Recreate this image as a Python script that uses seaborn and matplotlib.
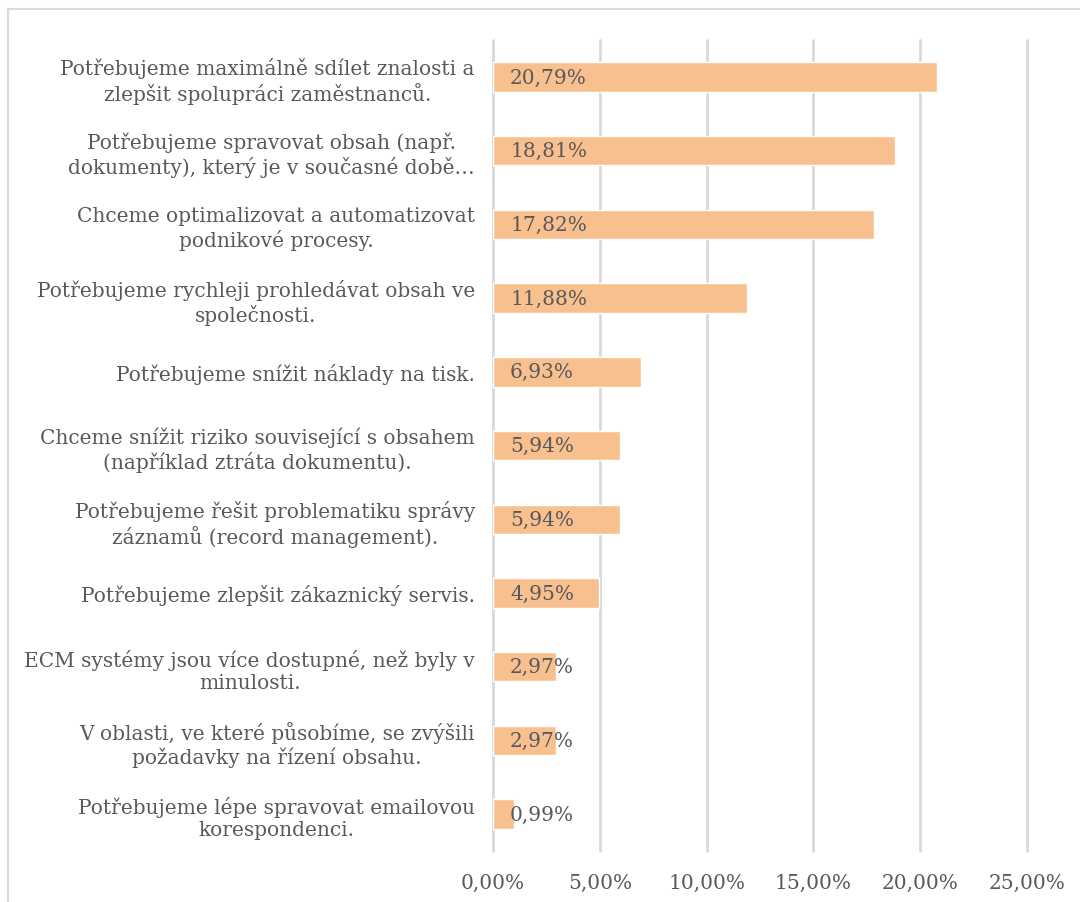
import matplotlib
matplotlib.use("Agg")
import matplotlib.pyplot as plt
import matplotlib.patches as mpatches
from matplotlib.ticker import FuncFormatter
import seaborn as sns
import pandas as pd

reasons = [
    "Potřebujeme maximálně sdílet znalosti a\nzlepšit spolupráci zaměstnanců.",
    "Potřebujeme spravovat obsah (např.\ndokumenty), který je v současné době…",
    "Chceme optimalizovat a automatizovat\npodnikové procesy.",
    "Potřebujeme rychleji prohledávat obsah ve\nspolečnosti.",
    "Potřebujeme snížit náklady na tisk.",
    "Chceme snížit riziko související s obsahem\n(například ztráta dokumentu).",
    "Potřebujeme řešit problematiku správy\nzáznamů (record management).",
    "Potřebujeme zlepšit zákaznický servis.",
    "ECM systémy jsou více dostupné, než byly v\nminulosti.",
    "V oblasti, ve které působíme, se zvýšili\npožadavky na řízení obsahu.",
    "Potřebujeme lépe spravovat emailovou\nkorespondenci.",
]
shares = [20.79, 18.81, 17.82, 11.88, 6.93, 5.94, 5.94, 4.95, 2.97, 2.97, 0.99]

df = pd.DataFrame({"reason": reasons, "share": shares})

sns.set_theme(style="white")
plt.rcParams["font.family"] = ["DejaVu Serif"]

text_color = "#595959"
bar_color = "#F8C08F"
grid_color = "#D9D9D9"
fs = 14.5

fig = plt.figure(figsize=(10.8, 9.03), dpi=100)
ax = fig.add_axes([0.4565, 0.0565, 0.4945, 0.898])

sns.barplot(data=df, x="share", y="reason", orient="h", color=bar_color,
            saturation=1, width=0.4, ax=ax)

ax.set_xlim(0, 25)
ax.set_xticks([0, 5, 10, 15, 20, 25])
ax.xaxis.set_major_formatter(FuncFormatter(lambda v, _: f"{v:.2f}".replace(".", ",") + "%"))
ax.grid(axis="x", color=grid_color, linewidth=2)
for gl in ax.get_xgridlines():
    gl.set_clip_on(False)
ax.set_axisbelow(True)
for s in ax.spines.values():
    s.set_visible(False)
ax.set_xlabel("")
ax.set_ylabel("")
ax.tick_params(axis="both", length=0, colors=text_color, labelsize=fs)
ax.tick_params(axis="x", pad=16)
ax.tick_params(axis="y", pad=13)
for lbl in ax.get_yticklabels():
    lbl.set_multialignment("center")
    lbl.set_linespacing(1.22)

for i, v in enumerate(shares):
    ax.text(0.8, i, f"{v:.2f}".replace(".", ",") + "%", va="center", ha="left",
            color=text_color, fontsize=fs)

# light frame around the chart area
fig.patches.append(mpatches.Rectangle((8 / 1080, -0.05), 1.2, 1 - 10 / 903 + 0.05,
                                      transform=fig.transFigure, fill=False,
                                      edgecolor=grid_color, linewidth=1.5))

fig.savefig("out.png", dpi=100)
